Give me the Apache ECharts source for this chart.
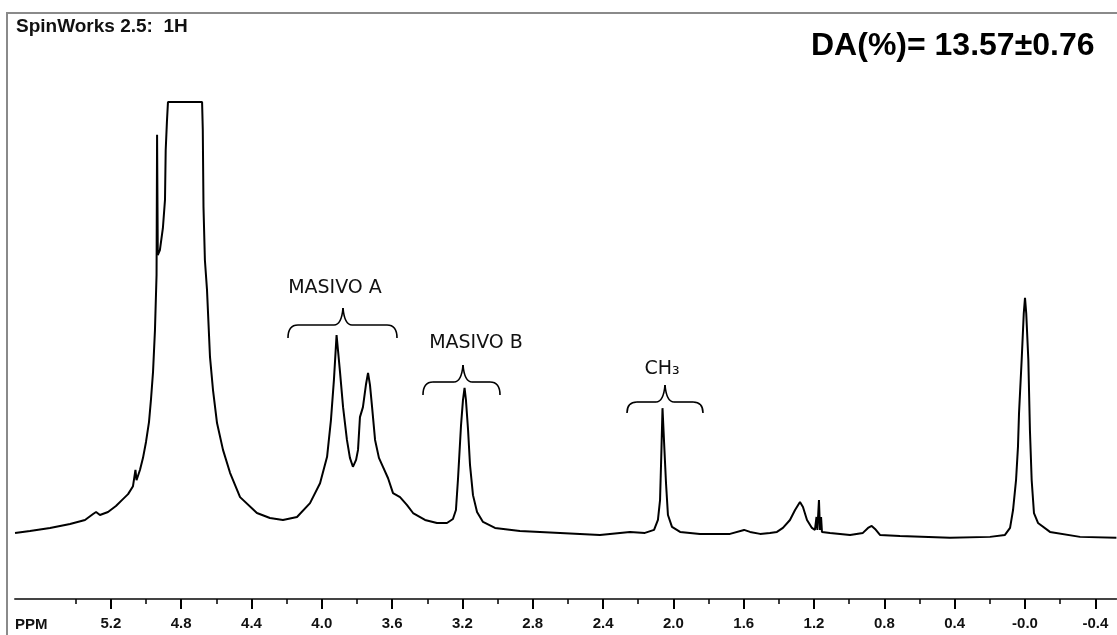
<!DOCTYPE html>
<html>
<head>
<meta charset="utf-8">
<script src="https://cdn.jsdelivr.net/npm/echarts@6/dist/echarts.min.js"></script>
<style>
html,body{margin:0;padding:0;background:#fff;}
#chart{width:1117px;height:635px;}
</style>
</head>
<body>
<div id="chart"></div>
<script>
// Chemical shift (ppm) and displayed intensity (% of clipped display height)
const ppm = [
  5.745, 5.660, 5.546, 5.432, 5.347, 5.301, 5.284, 5.262, 5.216, 5.171, 5.137, 5.102, 5.074,
  5.060, 5.054, 5.034, 5.017, 5.000, 4.983, 4.972, 4.960, 4.949, 4.940, 4.937, 4.933, 4.921,
  4.904, 4.892, 4.888, 4.881, 4.875, 4.681, 4.677, 4.673, 4.665, 4.653, 4.636, 4.619, 4.596,
  4.562, 4.522, 4.465, 4.369, 4.295, 4.221, 4.141, 4.067, 4.010, 3.970, 3.948, 3.931, 3.916,
  3.908, 3.896, 3.879, 3.857, 3.840, 3.823, 3.805, 3.794, 3.783, 3.766, 3.749, 3.737, 3.726,
  3.714, 3.697, 3.675, 3.652, 3.623, 3.595, 3.555, 3.515, 3.481, 3.413, 3.345, 3.288, 3.254,
  3.237, 3.225, 3.208, 3.197, 3.188, 3.180, 3.168, 3.157, 3.140, 3.117, 3.083, 3.015, 2.873,
  2.645, 2.418, 2.247, 2.162, 2.110, 2.088, 2.076, 2.068, 2.062, 2.057, 2.051, 2.042, 2.031,
  2.008, 1.962, 1.849, 1.678, 1.598, 1.564, 1.507, 1.451, 1.411, 1.377, 1.337, 1.308, 1.280,
  1.263, 1.240, 1.212, 1.195, 1.186, 1.181, 1.172, 1.166, 1.160, 1.155, 1.109, 0.995, 0.922,
  0.893, 0.872, 0.853, 0.825, 0.711, 0.427, 0.199, 0.114, 0.085, 0.068, 0.051, 0.040, 0.034,
  0.019, 0.007, 0.000, -0.007, -0.019, -0.028, -0.038, -0.051, -0.074, -0.142, -0.313, -0.520
];
const intensity = [
  13.3, 13.7, 14.3, 15.1, 15.9, 17.1, 17.5, 16.9, 17.5, 18.7, 19.9, 21.1, 22.7,
  26.0, 23.9, 26.0, 28.4, 31.6, 35.6, 40.0, 45.7, 54.1, 65.2, 93.4, 69.2, 70.2,
  74.6, 80.3, 90.3, 96.0, 100, 100, 94.4, 78.9, 68.2, 62.2, 48.7, 42.1, 35.4,
  30.0, 25.4, 20.5, 17.3, 16.3, 15.9, 16.5, 19.3, 23.3, 28.6, 36.0, 44.1, 53.1,
  50.1, 45.5, 38.6, 32.0, 28.4, 26.6, 28.0, 30.0, 36.6, 38.6, 43.1, 45.5, 43.1,
  38.6, 32.0, 28.4, 26.6, 24.3, 21.3, 20.5, 18.9, 17.3, 15.9, 15.3, 15.3, 16.1,
  17.9, 24.3, 35.0, 40.0, 42.5, 40.0, 34.0, 27.0, 20.9, 17.5, 15.5, 14.3, 13.7,
  13.3, 12.9, 13.5, 13.3, 13.9, 15.9, 19.9, 30.0, 38.4, 38.0, 30.0, 23.3, 16.9,
  14.5, 13.5, 13.1, 13.1, 13.9, 13.5, 13.1, 13.3, 13.5, 14.3, 15.9, 17.9, 19.5,
  18.5, 15.9, 14.3, 13.9, 16.5, 13.9, 19.9, 13.9, 16.5, 13.5, 13.3, 12.9, 13.3,
  14.3, 14.7, 14.1, 12.9, 12.7, 12.3, 12.5, 12.9, 14.3, 17.9, 23.9, 30.6, 37.4,
  48.1, 57.5, 60.6, 57.5, 48.1, 34.0, 23.9, 17.3, 15.3, 13.5, 12.5, 12.3
];
// Axis ranges and tick steps (ppm)
const xMin = -0.52, xMax = 5.745;
const majorMin = -0.4, majorMax = 5.2, majorStep = 0.4;
const minorMin = -0.4, minorMax = 5.4, minorStep = 0.2;
const yMin = 0, yMax = 100;
// Texts
const titleText = 'SpinWorks 2.5:  1H';
const daText = 'DA(%)= 13.57\u00b10.76';
const axisUnit = 'PPM';
const labelA = 'MASIVO A', labelB = 'MASIVO B', labelC = 'CH\u2083';

const chart = echarts.init(document.getElementById('chart'), null, {renderer: 'canvas'});
const data = ppm.map((p, i) => [p, intensity[i]]);

// pixel scale: 175.8 px per ppm, 0 ppm at x=1025
const pxPerPpm = 175.8, zeroX = 1025;
const W = 1117;
function gridFor(lo, hi, top, bottom) {
  const left = zeroX - pxPerPpm * hi;
  const right = W - (zeroX - pxPerPpm * lo);
  return {left: left, right: right, top: top, bottom: bottom, containLabel: false};
}
const tickFont = {fontFamily: 'Liberation Sans, Arial, sans-serif', fontWeight: 'bold', fontSize: 15, color: '#111'};

const braceStyle = {fill: 'none', stroke: '#000', lineWidth: 1.6};
function brace(x1, x2, xm, yTop, yLine, yEnd) {
  const r = 10;
  return [
    {type: 'bezierCurve', shape: {x1: x1, y1: yEnd, cpx1: x1, cpy1: yLine, x2: x1 + r, y2: yLine}, style: braceStyle},
    {type: 'line', shape: {x1: x1 + r, y1: yLine, x2: xm - 9, y2: yLine}, style: braceStyle},
    {type: 'bezierCurve', shape: {x1: xm - 9, y1: yLine, cpx1: xm - 1.5, cpy1: yLine, x2: xm, y2: yTop}, style: braceStyle},
    {type: 'bezierCurve', shape: {x1: xm, y1: yTop, cpx1: xm + 1.5, cpy1: yLine, x2: xm + 9, y2: yLine}, style: braceStyle},
    {type: 'line', shape: {x1: xm + 9, y1: yLine, x2: x2 - r, y2: yLine}, style: braceStyle},
    {type: 'bezierCurve', shape: {x1: x2 - r, y1: yLine, cpx1: x2, cpy1: yLine, x2: x2, y2: yEnd}, style: braceStyle}
  ];
}
const annFont = 'DejaVu Sans, Open Sans, sans-serif';

const option = {
  animation: false,
  backgroundColor: '#fff',
  grid: [
    gridFor(xMin, xMax, 102, 36),
    gridFor(majorMin, majorMax, 590, 36),
    gridFor(minorMin, minorMax, 590, 36)
  ],
  xAxis: [
    {gridIndex: 0, type: 'value', inverse: true, min: xMin, max: xMax,
     axisLine: {show: true, onZero: false, lineStyle: {color: '#444', width: 2}},
     axisTick: {show: false}, axisLabel: {show: false}, splitLine: {show: false}},
    {gridIndex: 1, type: 'value', inverse: true, min: majorMin, max: majorMax, interval: majorStep,
     axisLine: {show: false},
     axisTick: {show: true, length: 10, lineStyle: {color: '#000', width: 2}},
     axisLabel: Object.assign({show: true, margin: 17, showMinLabel: true, showMaxLabel: true,
       formatter: v => (Math.abs(v) < 1e-9 ? '-0.0' : v.toFixed(1))}, tickFont),
     splitLine: {show: false}},
    {gridIndex: 2, type: 'value', inverse: true, min: minorMin, max: minorMax, interval: minorStep,
     axisLine: {show: false},
     axisTick: {show: true, length: 5, lineStyle: {color: '#000', width: 1.5}},
     axisLabel: {show: false}, splitLine: {show: false}}
  ],
  yAxis: [
    {gridIndex: 0, type: 'value', min: yMin, max: yMax, show: false},
    {gridIndex: 1, type: 'value', min: 0, max: 1, show: false},
    {gridIndex: 2, type: 'value', min: 0, max: 1, show: false}
  ],
  series: [{
    type: 'line', xAxisIndex: 0, yAxisIndex: 0, data: data,
    showSymbol: false, symbol: 'none', clip: false,
    lineStyle: {color: '#000', width: 2}
  }],
  graphic: [
    {type: 'line', shape: {x1: 7, y1: 13, x2: 7, y2: 640}, style: {stroke: '#8a8a8a', lineWidth: 2}},
    {type: 'line', shape: {x1: 6, y1: 13, x2: 1120, y2: 13}, style: {stroke: '#8a8a8a', lineWidth: 2}},
    {type: 'text', x: 16, y: 27, style: {text: titleText, fontFamily: 'Liberation Sans, Arial, sans-serif', fontWeight: 'bold', fontSize: 19, fill: '#111', verticalAlign: 'middle'}},
    {type: 'text', x: 811, y: 46, style: {text: daText, fontFamily: 'Liberation Sans, Arial, sans-serif', fontWeight: 'bold', fontSize: 32, fill: '#000', verticalAlign: 'middle'}},
    {type: 'text', x: 15, y: 625, style: {text: axisUnit, fontFamily: 'Liberation Sans, Arial, sans-serif', fontWeight: 'bold', fontSize: 15, fill: '#111', verticalAlign: 'middle'}},
    {type: 'text', x: 335, y: 288, style: {text: labelA, fontFamily: annFont, fontSize: 19, fill: '#111', align: 'center', verticalAlign: 'middle'}},
    {type: 'text', x: 476, y: 343, style: {text: labelB, fontFamily: annFont, fontSize: 19, fill: '#111', align: 'center', verticalAlign: 'middle'}},
    {type: 'text', x: 662, y: 369, style: {text: labelC, fontFamily: annFont, fontSize: 19, fill: '#111', align: 'center', verticalAlign: 'middle'}}
  ].concat(
    brace(288, 397, 343, 308, 325, 338),
    brace(423, 500, 463, 365, 382, 395),
    brace(627, 703, 665, 385, 402, 413)
  )
};
chart.setOption(option);
</script>
</body>
</html>
